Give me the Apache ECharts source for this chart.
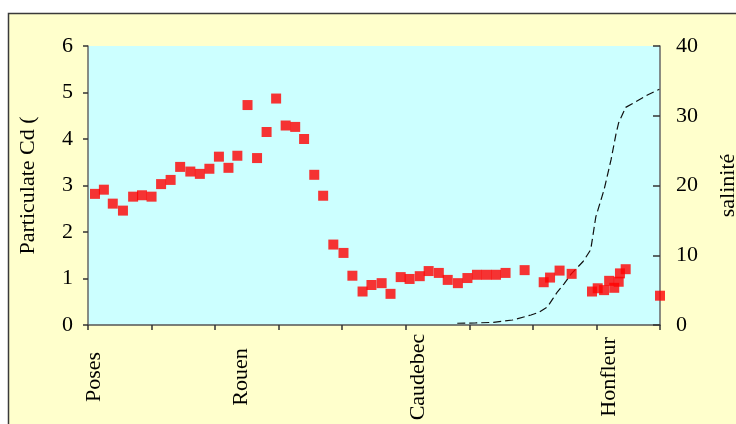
<!DOCTYPE html>
<html>
<head>
<meta charset="utf-8">
<script src="https://cdn.jsdelivr.net/npm/echarts@6/dist/echarts.min.js"></script>
<style>
  html, body { margin: 0; padding: 0; background: #ffffff; }
  #chart { width: 736px; height: 424px; }
</style>
</head>
<body>
<div id="chart"></div>
<script>
// Position along the estuary (axis units, one tick per unit)
const cdDist = [0.11,0.25,0.39,0.55,0.71,0.85,1.00,1.15,1.30,1.45,1.61,1.76,1.91,2.06,2.21,2.35,2.51,2.66,2.81,2.96,3.11,3.26,3.40,3.56,3.70,3.86,4.02,4.16,4.32,4.46,4.62,4.76,4.92,5.06,5.22,5.36,5.52,5.66,5.82,5.97,6.12,6.27,6.42,6.57,6.87,7.17,7.27,7.42,7.61,7.93,8.02,8.12,8.20,8.28,8.35,8.37,8.46,9.00];
// Particulate Cd
const cdValues = [2.82,2.91,2.61,2.46,2.76,2.79,2.76,3.03,3.12,3.40,3.30,3.25,3.36,3.62,3.38,3.64,4.73,3.59,4.15,4.87,4.29,4.26,4.00,3.23,2.78,1.73,1.55,1.06,0.72,0.86,0.90,0.67,1.03,0.99,1.05,1.16,1.12,0.97,0.90,1.01,1.08,1.08,1.08,1.12,1.18,0.92,1.02,1.17,1.10,0.72,0.79,0.75,0.95,0.80,0.93,1.11,1.20,0.63];

// Salinity profile
const salDist = [5.81,6.10,6.38,6.68,6.97,7.09,7.23,7.31,7.39,7.49,7.60,7.79,7.91,7.99,8.04,8.12,8.23,8.31,8.35,8.46,8.58,8.81,8.99];
const salValues = [0.25,0.30,0.38,0.72,1.43,1.8,2.6,3.7,4.8,5.9,7.3,9.1,10.8,15.5,17.0,19.4,23.7,27.5,29.0,31.2,31.8,33.0,33.8];

// Place names along the river
const placeNames = ['Poses', 'Rouen', 'Caudebec', 'Honfleur'];
const placeDist = [0.10, 2.41, 5.20, 8.20];

const leftTicks = [0, 1, 2, 3, 4, 5, 6];
const rightTicks = [0, 10, 20, 30, 40];

const serif = "'Liberation Serif', 'Times New Roman', serif";

const chart = echarts.init(document.getElementById('chart'), null, { renderer: 'canvas' });

chart.setOption({
  animation: false,
  backgroundColor: '#ffffff',
  graphic: [{
    type: 'rect',
    z: -10,
    silent: true,
    shape: { x: 8.5, y: 13.5, width: 800, height: 500 },
    style: { fill: '#FFFFCC', stroke: '#3a3a3a', lineWidth: 1.5 }
  }],
  grid: {
    left: 88, right: 76, top: 46, bottom: 99,
    containLabel: false,
    outerBoundsMode: 'none',
    show: true, backgroundColor: '#CCFFFF', borderWidth: 0
  },
  xAxis: {
    type: 'value',
    min: 0, max: 9, interval: 1,
    splitLine: { show: false },
    axisLine: { lineStyle: { color: '#555', width: 1.5 } },
    axisTick: { show: true, length: 5, lineStyle: { color: '#333', width: 1.5 } },
    axisLabel: {
      customValues: placeDist,
      rotate: 90,
      align: 'center',
      verticalAlign: 'middle',
      margin: 52,
      fontFamily: serif,
      fontSize: 22,
      color: '#000',
      formatter: function (v) {
        for (let i = 0; i < placeDist.length; i++) {
          if (Math.abs(placeDist[i] - v) < 1e-6) return placeNames[i];
        }
        return '';
      }
    }
  },
  yAxis: [{
    type: 'value',
    min: leftTicks[0], max: leftTicks[leftTicks.length - 1], interval: 1,
    name: 'Particulate Cd (',
    nameLocation: 'middle',
    nameGap: 49,
    nameTextStyle: { fontFamily: serif, fontSize: 22, color: '#000' },
    splitLine: { show: false },
    axisLine: { show: true, lineStyle: { color: '#666', width: 1.5 } },
    axisTick: { show: true, length: 5, lineStyle: { color: '#333', width: 1.5 } },
    axisLabel: { margin: 15, fontFamily: serif, fontSize: 22, color: '#000' }
  }, {
    type: 'value',
    position: 'right',
    min: rightTicks[0], max: rightTicks[rightTicks.length - 1], interval: 10,
    name: 'salinité',
    nameLocation: 'middle',
    nameGap: 57,
    nameTextStyle: { fontFamily: serif, fontSize: 22, color: '#000' },
    splitLine: { show: false },
    axisLine: { show: true, lineStyle: { color: '#666', width: 1.5 } },
    axisTick: { show: true, inside: true, length: 7, lineStyle: { color: '#333', width: 1.5 } },
    axisLabel: { margin: 16, fontFamily: serif, fontSize: 22, color: '#000' }
  }],
  series: [{
    type: 'line',
    yAxisIndex: 1,
    data: salDist.map((d, i) => [d, salValues[i]]),
    showSymbol: false,
    symbol: 'none',
    smooth: false,
    lineStyle: { color: '#111', width: 1.2, type: [8, 4] },
    z: 2
  }, {
    type: 'scatter',
    yAxisIndex: 0,
    data: cdDist.map((d, i) => [d, cdValues[i]]),
    symbol: 'rect',
    symbolSize: 10,
    clip: false,
    itemStyle: { color: '#FF0000' },
    z: 3
  }]
});
</script>
</body>
</html>
